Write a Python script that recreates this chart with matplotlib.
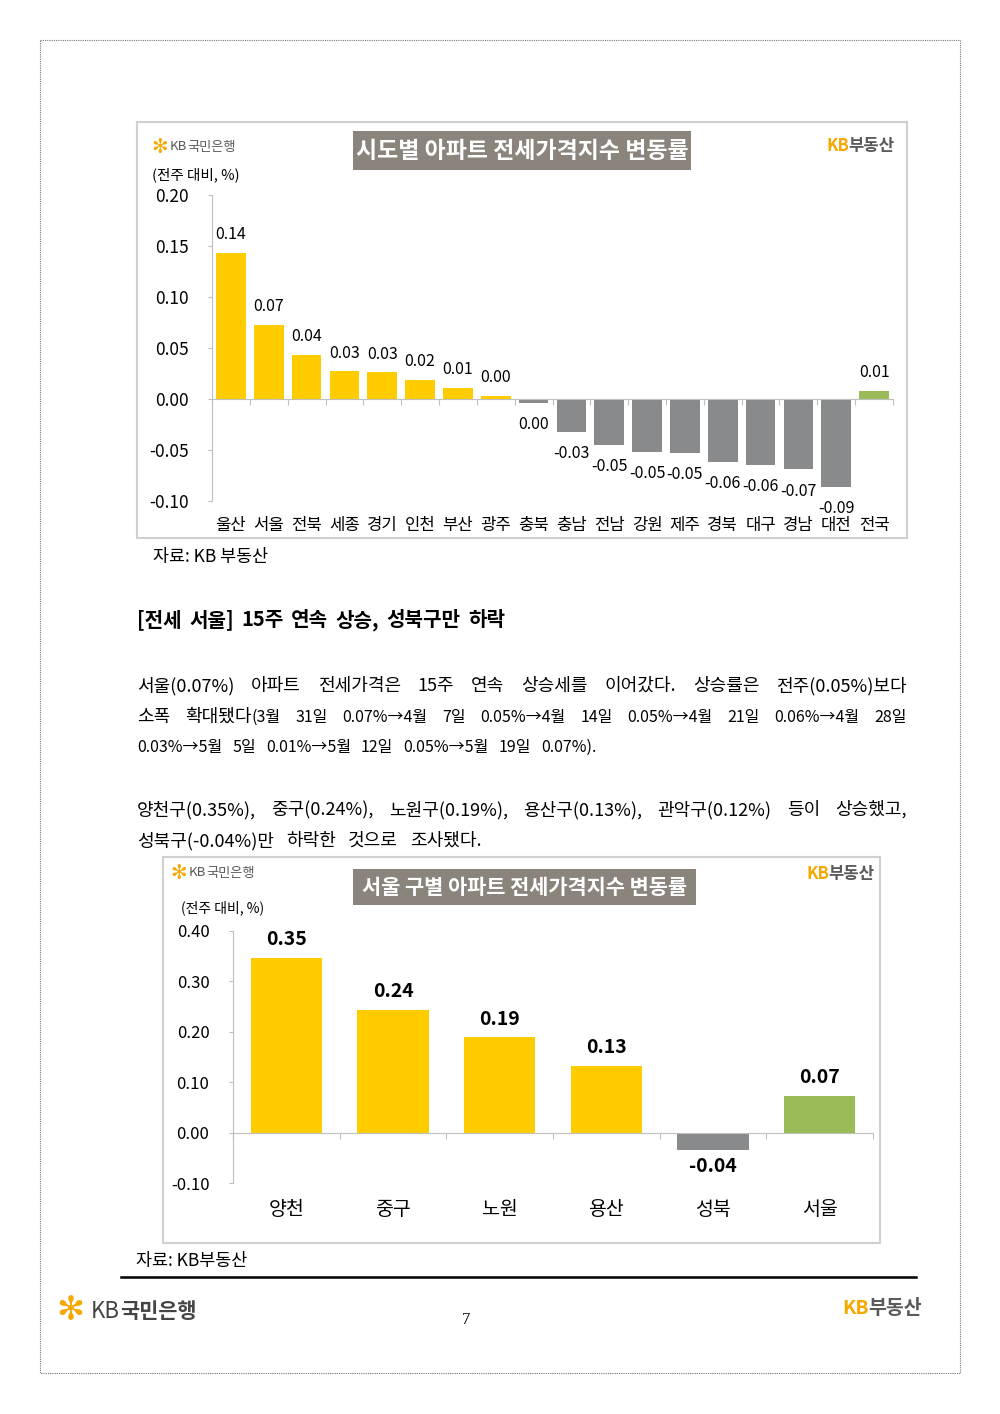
import matplotlib
matplotlib.use('Agg')
import matplotlib.pyplot as plt
from matplotlib.patches import Rectangle
import numpy as np

plt.rcParams['font.family'] = ['Noto Sans CJK KR', 'DejaVu Sans']

# ---------------- data ----------------
regions = ['울산', '서울', '전북', '세종', '경기', '인천', '부산', '광주', '충북',
           '충남', '전남', '강원', '제주', '경북', '대구', '경남', '대전', '전국']
region_vals = [0.143, 0.073, 0.043, 0.027, 0.026, 0.019, 0.011, 0.003, -0.004,
               -0.032, -0.045, -0.052, -0.053, -0.062, -0.065, -0.069, -0.086, 0.008]
region_labels = ['0.14', '0.07', '0.04', '0.03', '0.03', '0.02', '0.01', '0.00', '0.00',
                 '-0.03', '-0.05', '-0.05', '-0.05', '-0.06', '-0.06', '-0.07', '-0.09', '0.01']
y1_ticks = [-0.10, -0.05, 0.00, 0.05, 0.10, 0.15, 0.20]

districts = ['양천', '중구', '노원', '용산', '성북', '서울']
district_vals = [0.347, 0.244, 0.189, 0.133, -0.035, 0.073]
district_labels = ['0.35', '0.24', '0.19', '0.13', '-0.04', '0.07']
y2_ticks = [-0.10, 0.00, 0.10, 0.20, 0.30, 0.40]

YELLOW = '#FFCC00'
GRAY = '#898A8C'
GREEN = '#9BBB59'
TITLE_BG = '#8B847C'
GOLD = '#F5A800'
LOGO_GRAY = '#5A5A5A'
AXIS_GRAY = '#BFBFBF'

W, H = 1000, 1414
fig = plt.figure(figsize=(10, 14.14), dpi=100)
fig.patch.set_facecolor('white')

ov = fig.add_axes([0, 0, 1, 1])
ov.set_xlim(0, W)
ov.set_ylim(H, 0)
ov.axis('off')
ov.set_zorder(0)

renderer = fig.canvas.get_renderer()


def tw(s, size, weight='normal', family=None):
    kw = {}
    if family:
        kw['family'] = family
    t = ov.text(0, 0, s, fontsize=size, fontweight=weight, **kw)
    w = t.get_window_extent(renderer=renderer).width
    t.remove()
    return w


def runs(x, y, items, va='center'):
    for s, size, color, weight in items:
        ov.text(x, y, s, fontsize=size, color=color, fontweight=weight, va=va, ha='left')
        x += tw(s, size, weight)
    return x


def px_axes(left, top, right, bottom):
    return fig.add_axes([left / W, 1 - bottom / H, (right - left) / W, (bottom - top) / H])


# page border
ov.add_patch(Rectangle((40, 40), 920, 1333, fill=False, ec='#777777', lw=0.8, ls=(0, (1, 1))))


def chart_frame(x0, y0, x1, y1):
    ov.add_patch(Rectangle((x0, y0), x1 - x0, y1 - y0, fill=False, ec='#D0D0D0', lw=1.5))


def title_box(x0, y0, x1, y1, text, size):
    ov.add_patch(Rectangle((x0, y0), x1 - x0, y1 - y0, fc=TITLE_BG, ec='none'))
    ov.text((x0 + x1) / 2, (y0 + y1) / 2 + 1, text, fontsize=size, color='white',
            fontweight='bold', ha='center', va='center')


def kb_bank_logo(x, y, size):
    ov.text(x, y, '✻', fontsize=size * 1.5, color=GOLD, va='center', ha='left',
            family='DejaVu Sans', fontweight='bold')
    runs(x + size * 2.0, y, [('KB', size, LOGO_GRAY, 'normal'), ('국민은행', size, LOGO_GRAY, 'normal')])


def kb_estate_logo(x, y, size):
    runs(x, y, [('KB', size, GOLD, 'bold'), ('부동산', size, LOGO_GRAY, 'bold')])


# ---------------- chart 1 ----------------
chart_frame(137, 122, 907, 538)
title_box(353, 131, 691, 170, '시도별 아파트 전세가격지수 변동률', 16.5)
kb_bank_logo(151, 147, 9.5)
kb_estate_logo(826, 146, 12)
ov.text(152, 175, '(전주 대비, %)', fontsize=10.5, va='center', ha='left')

ax1 = px_axes(212, 195, 893, 501)
ax1.patch.set_alpha(0)
x1 = np.arange(len(regions))
cols1 = [GREEN if i == len(regions) - 1 else (YELLOW if v >= 0 else GRAY)
         for i, v in enumerate(region_vals)]
ax1.bar(x1, region_vals, width=0.78, color=cols1, zorder=2)
ax1.set_xlim(-0.5, len(regions) - 0.5)
ax1.set_ylim(-0.10, 0.20)
ax1.set_yticks(y1_ticks)
ax1.set_yticklabels([f'{t:.2f}' for t in y1_ticks])
ax1.tick_params(axis='y', length=3, color=AXIS_GRAY, labelsize=12.5, pad=14)
ax1.set_xticks(np.arange(-0.5, len(regions), 1))
ax1.set_xticklabels([])
ax1.tick_params(axis='x', length=4, color=AXIS_GRAY, direction='out')
for s in ['top', 'right']:
    ax1.spines[s].set_visible(False)
ax1.spines['left'].set_color(AXIS_GRAY)
ax1.spines['bottom'].set_color(AXIS_GRAY)
ax1.spines['bottom'].set_position(('data', 0))
for i, (v, lab) in enumerate(zip(region_vals, region_labels)):
    if v >= 0:
        ax1.annotate(lab, (i, v), xytext=(0, 7), textcoords='offset points',
                     ha='center', va='bottom', fontsize=11.5)
    else:
        ax1.annotate(lab, (i, v), xytext=(0, -9.5), textcoords='offset points',
                     ha='center', va='top', fontsize=11.5)
for i, name in enumerate(regions):
    ax1.annotate(name, (i, 0), xycoords=('data', 'axes fraction'), xytext=(0, -17.5),
                 textcoords='offset points', ha='center', va='center', fontsize=12)

ov.text(153, 557, '자료: KB 부동산', fontsize=12.5, va='center', ha='left')

# ---------------- text ----------------
L, S = 13, 11.5
LEFT, RIGHT = 137, 907


def draw_line(words, baseline, justify=True, gap=12, right=RIGHT, weight='normal'):
    widths = [sum(tw(s, sz, weight) for s, sz in w) for w in words]
    if justify:
        gap = (right - LEFT - sum(widths)) / (len(words) - 1)
    x = LEFT
    for w, wd in zip(words, widths):
        for s, sz in w:
            ov.text(x, baseline, s, fontsize=sz, va='baseline', ha='left', fontweight=weight)
            x += tw(s, sz, weight)
        x += gap


def simple(line, size):
    return [[(w, size)] for w in line.split(' ')]


draw_line(simple('[전세 서울] 15주 연속 상승, 성북구만 하락', 14.5), 626, right=505, weight='bold')

draw_line(simple('서울(0.07%) 아파트 전세가격은 15주 연속 상승세를 이어갔다. 상승률은 전주(0.05%)보다', L), 691)
line2 = [[('소폭', L)], [('확대됐다', L), ('(3월', S)]] + simple(
    '31일 0.07%→4월 7일 0.05%→4월 14일 0.05%→4월 21일 0.06%→4월 28일', S)
draw_line(line2, 722)
draw_line(simple('0.03%→5월 5일 0.01%→5월 12일 0.05%→5월 19일 0.07%).', S), 752, justify=False, gap=10)

draw_line(simple('양천구(0.35%), 중구(0.24%), 노원구(0.19%), 용산구(0.13%), 관악구(0.12%) 등이 상승했고,', L), 815)
draw_line(simple('성북구(-0.04%)만 하락한 것으로 조사됐다.', L), 846, justify=False, gap=12)

# ---------------- chart 2 ----------------
chart_frame(163, 857, 880, 1243)
title_box(353, 869, 696, 905, '서울 구별 아파트 전세가격지수 변동률', 15)
kb_bank_logo(170, 873, 9.5)
kb_estate_logo(806, 874, 12)
ov.text(181, 908, '(전주 대비, %)', fontsize=10, va='center', ha='left')

ax2 = px_axes(233, 931, 873, 1183)
ax2.patch.set_alpha(0)
x2 = np.arange(len(districts))
cols2 = [GREEN if i == len(districts) - 1 else (YELLOW if v >= 0 else GRAY)
         for i, v in enumerate(district_vals)]
ax2.bar(x2, district_vals, width=0.67, color=cols2, zorder=2)
ax2.set_xlim(-0.5, len(districts) - 0.5)
ax2.set_ylim(-0.10, 0.40)
ax2.set_yticks(y2_ticks)
ax2.set_yticklabels([f'{t:.2f}' for t in y2_ticks])
ax2.tick_params(axis='y', length=3, color=AXIS_GRAY, labelsize=12, pad=14)
ax2.set_xticks(np.arange(-0.5, len(districts), 1))
ax2.set_xticklabels([])
ax2.tick_params(axis='x', length=4, color=AXIS_GRAY, direction='out')
for s in ['top', 'right']:
    ax2.spines[s].set_visible(False)
ax2.spines['left'].set_color(AXIS_GRAY)
ax2.spines['bottom'].set_color(AXIS_GRAY)
ax2.spines['bottom'].set_position(('data', 0))
for i, (v, lab) in enumerate(zip(district_vals, district_labels)):
    if v >= 0:
        ax2.annotate(lab, (i, v), xytext=(0, 6), textcoords='offset points',
                     ha='center', va='bottom', fontsize=14, fontweight='bold')
    else:
        ax2.annotate(lab, (i, v), xytext=(0, -5), textcoords='offset points',
                     ha='center', va='top', fontsize=14, fontweight='bold')
for i, name in enumerate(districts):
    ax2.annotate(name, (i, 0), xycoords=('data', 'axes fraction'), xytext=(0, -19),
                 textcoords='offset points', ha='center', va='center', fontsize=14)

ov.text(136, 1261, '자료: KB부동산', fontsize=12.5, va='center', ha='left')
ov.plot([121, 916], [1277, 1277], color='black', lw=1.8)

# footer
ov.text(56, 1311, '✻', fontsize=24, color=GOLD, va='center', ha='left',
        family='DejaVu Sans', fontweight='bold')
runs(91, 1311, [('KB', 16, '#444444', 'normal'), ('국민은행', 15, '#444444', 'bold')])
ov.text(466, 1320, '7', fontsize=12, va='center', ha='center', family='Liberation Serif')
runs(842, 1309, [('KB', 14, GOLD, 'bold'), ('부동산', 14, LOGO_GRAY, 'bold')])

fig.savefig('out.png', dpi=100, facecolor='white')
